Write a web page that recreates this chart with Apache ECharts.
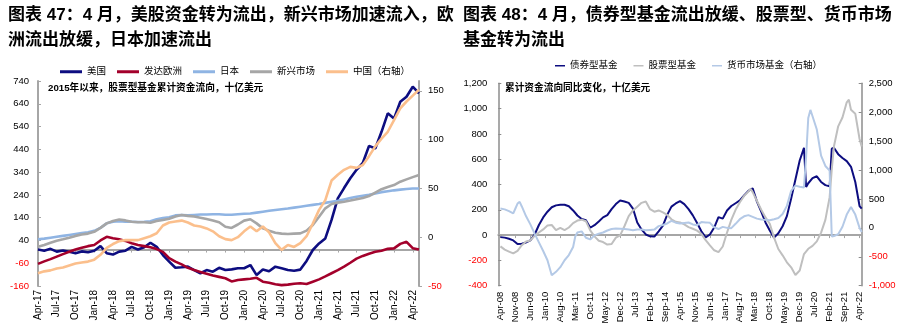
<!DOCTYPE html>
<html><head><meta charset="utf-8">
<script src="https://cdn.jsdelivr.net/npm/echarts@6/dist/echarts.min.js"></script>
<style>html,body{margin:0;padding:0;background:#fff}#c{width:904px;height:335px}</style>
</head><body><div id="c"></div>
<script>
// ---------- Left chart: cumulative equity fund flows since 2015 (bn USD), monthly Apr-17 .. May-22 ----------
const leftTickLabels = ['Apr-17','Jul-17','Oct-17','Jan-18','Apr-18','Jul-18','Oct-18','Jan-19','Apr-19','Jul-19','Oct-19','Jan-20','Apr-20','Jul-20','Oct-20','Jan-21','Apr-21','Jul-21','Oct-21','Jan-22','Apr-22'];
const leftTickStep = 3; // months between tick labels
const leftYLabels = [-160,-60,40,140,240,340,440,540,640,740];
const leftY2Labels = [-50,0,50,100,150];
const usFlow = [0,-5,3,-9,-4,-10,-16,-8,-12,
  -5,15,-16,-22,-9,-5,12,0,10,30,12,-24,
  -53,-80,-78,-75,-90,-104,-90,-97,-80,-90,-87,-82,
  -82,-68,-112,-88,-95,-75,-82,-90,-93,-88,-50,-2,
  27,49,130,225,270,313,350,380,455,444,517,598,
  575,649,671,715,686];
const europeFlow = [-63,-52,-42,-31,-20,-10,0,8,15,
  20,40,56,50,45,38,28,20,15,10,2,-10,
  -38,-53,-65,-80,-90,-98,-106,-114,-120,-126,-140,-134,
  -131,-128,-124,-141,-146,-152,-156,-154,-150,-148,-151,-141,
  -131,-118,-104,-90,-75,-58,-40,-28,-18,-10,-5,3,
  5,25,34,6,0];
const japanFlow = [45,48,52,56,60,64,68,72,76,
  82,95,115,122,125,122,122,121,122,124,133,138,
  142,150,152,150,152,154,154,155,155,153,153,155,
  157,158,162,166,170,174,177,180,184,188,192,196,
  200,205,210,214,220,226,232,236,240,246,252,256,
  260,263,266,268,268];
const emFlow = [12,20,30,39,45,52,60,66,70,
  78,95,115,125,132,128,122,120,120,118,125,130,
  135,145,152,148,145,140,134,128,120,100,95,110,
  127,133,115,93,83,74,70,68,70,71,83,108,
  144,181,200,206,210,215,221,226,235,250,265,275,
  283,298,308,318,327];
const chinaFlow = [-37,-35,-34,-32,-31,-29,-27,-26,-25,
  -23,-18,-11,-7,-4,-3,-3,-3,-1,1,4,12,
  15,16,17,15,12,11,9,6,1,-2,-3,0,
  6,11,6,11,5,-6,-13,-8,-10,-6,1,14,
  28,38,58,64,69,72,71,74,83,93,101,108,
  120,132,139,145,151];

// ---------- Right chart: YoY change of cumulative flows (bn USD), Apr-08 .. May-22 (month index 0 = Apr-08) ----------
const rightTickLabels = ['Apr-08','Nov-08','Jun-09','Jan-10','Aug-10','Mar-11','Oct-11','May-12','Dec-12','Jul-13','Feb-14','Sep-14','Apr-15','Nov-15','Jun-16','Jan-17','Aug-17','Mar-18','Oct-18','May-19','Dec-19','Jul-20','Feb-21','Sep-21','Apr-22'];
const rightTickStep = 7;
const bondMonths = [0,2,4,6,8,10,12,14,16,18,20,22,24,26,28,30,32,34,36,38,40,42,44,46,48,50,52,54,56,58,60,62,64,66,68,70,72,74,76,78,80,82,84,86,88,90,92,94,96,98,100,102,104,106,108,110,112,114,116,118,120,122,124,126,128,130,132,134,136,138,140,142,143,144,146,148,150,152,154,155,156,158,160,162,164,166,168,169];
const bondValues = [-16,-20,-29,-42,-70,-68,-58,-42,5,80,
  140,185,220,235,240,240,228,195,155,128,
  118,58,78,108,140,158,205,245,274,265,
  255,210,100,45,5,-10,-12,30,75,160,
  225,250,269,245,205,156,95,30,-18,5,
  60,142,130,195,230,252,274,314,350,370,
  265,185,100,37,-20,15,70,150,290,440,
  590,690,380,410,450,465,420,395,385,683,691,
  640,610,585,540,420,230,209];
const equityMonths = [0,2,4,6,8,10,12,14,16,18,20,22,24,26,28,30,32,34,36,38,40,42,44,46,48,50,52,54,56,58,60,62,64,66,68,70,72,74,76,78,80,82,84,86,88,90,92,94,96,98,100,102,104,106,108,110,112,114,116,117,118,120,122,124,126,128,130,132,134,136,138,140,142,144,146,148,150,152,154,155,156,158,160,162,163,164,166,168,169];
const equityValues = [-89,-115,-130,-145,-125,-80,-50,-42,-5,20,
  45,75,80,40,58,40,60,95,115,122,
  110,37,-10,-45,-55,-75,-70,-20,-2,70,
  150,195,225,255,265,205,185,195,180,160,
  125,105,100,85,63,50,35,10,-40,-81,
  -120,-134,-90,20,120,200,260,310,345,365,340,
  270,200,140,90,-20,-110,-160,-215,-255,-315,
  -280,-150,-108,-85,-50,20,120,300,520,700,
  860,930,1050,1070,990,960,760,700];
const moneyMonths = [0,2,4,6,7,8,9,10,12,14,16,18,20,22,24,26,28,30,32,34,35,36,38,40,42,44,46,48,50,52,54,56,58,60,62,64,66,68,70,72,74,76,78,80,82,84,86,88,90,92,94,96,98,100,102,104,106,108,110,112,114,116,118,120,122,124,126,128,130,132,134,136,138,140,142,143,144,145,146,148,150,152,154,155,156,158,160,162,164,166,168,169];
const moneyValues = [335,320,290,250,335,420,450,370,200,60,
  -100,-250,-400,-560,-820,-760,-680,-560,-470,-330,
  -150,-80,-60,-170,-200,-130,-100,-80,-45,-20,
  -10,-15,-20,-28,-40,-30,-28,-40,-35,-30,
  30,50,76,120,90,76,85,93,60,47,
  100,95,87,10,-20,17,0,-5,70,150,
  200,220,190,160,145,140,133,150,170,240,
  380,640,730,710,700,1230,1900,2040,1930,1700,
  1250,1070,990,-150,-140,-110,20,230,360,230,
  0,-70];

const zip = (xs, ys) => xs.map((x, i) => [x, ys[i]]);
const idx = (ys) => ys.map((y, i) => [i, y]);

const LATIN = '"Liberation Sans", Arial, "Noto Sans CJK SC", sans-serif';
const AXIS_GRAY = '#a6a6a6';
const labelBase = {fontSize: 9.5, color: '#000', fontFamily: LATIN, rich: {n: {color: '#ff0000', fontSize: 9.5, fontFamily: LATIN}}};
function yFmt(v) {
  const s = Math.abs(v) >= 1000 ? Number(v).toLocaleString('en-US') : String(v);
  return v < 0 ? '{n|' + s + '}' : s;
}

const chart = echarts.init(document.getElementById('c'), null, {renderer: 'canvas'});

const leftTickVals = leftTickLabels.map((_, i) => i * leftTickStep);
const rightTickVals = rightTickLabels.map((_, i) => i * rightTickStep);

const option = {
  animation: false,
  backgroundColor: '#fff',
  graphic: [
    {type: 'text', left: 8, top: 7, style: {text: '图表 47：4 月，美股资金转为流出，新兴市场加速流入，欧', font: 'bold 17px "Liberation Sans", "Noto Sans CJK SC"', fill: '#000'}},
    {type: 'text', left: 8, top: 32, style: {text: '洲流出放缓，日本加速流出', font: 'bold 17px "Liberation Sans", "Noto Sans CJK SC"', fill: '#000'}},
    {type: 'text', left: 463, top: 7, style: {text: '图表 48：4 月，债券型基金流出放缓、股票型、货币市场', font: 'bold 17px "Liberation Sans", "Noto Sans CJK SC"', fill: '#000'}},
    {type: 'text', left: 463, top: 32, style: {text: '基金转为流出', font: 'bold 17px "Liberation Sans", "Noto Sans CJK SC"', fill: '#000'}},
    {type: 'text', left: 48, top: 83, style: {text: '2015年以来，股票型基金累计资金流向，十亿美元', font: 'bold 9.7px "Liberation Sans", "Noto Sans CJK SC"', fill: '#000'}},
    {type: 'text', left: 505, top: 83, style: {text: '累计资金流向同比变化，十亿美元', font: 'bold 9.7px "Liberation Sans", "Noto Sans CJK SC"', fill: '#000'}}
  ],
  legend: [
    {left: 60, top: 67, padding: 0, itemWidth: 22, itemHeight: 3, itemGap: 11, icon: 'rect',
     textStyle: {fontSize: 9.5, color: '#000', fontFamily: LATIN},
     data: ['美国', '发达欧洲', '日本', '新兴市场', '中国（右轴）']},
    {left: 555, top: 61, padding: 0, itemWidth: 10, itemHeight: 1.5, itemGap: 16, icon: 'rect',
     textStyle: {fontSize: 9.5, color: '#000', fontFamily: LATIN},
     data: ['债券型基金', '股票型基金', '货币市场基金（右轴）']}
  ],
  grid: [
    {left: 38, top: 81, width: 381, height: 205},
    {left: 498.3, top: 83.3, width: 363.4, height: 202.4}
  ],
  xAxis: [
    {gridIndex: 0, type: 'value', min: 0, max: 61, position: 'bottom',
     axisLine: {show: true, onZero: true, onZeroAxisIndex: 0, lineStyle: {color: AXIS_GRAY, width: 2}},
     axisTick: {show: true, customValues: leftTickVals, length: 3, lineStyle: {color: AXIS_GRAY, width: 1}},
     axisLabel: {show: false}, splitLine: {show: false}},
    {gridIndex: 0, type: 'value', min: 0, max: 61, position: 'bottom',
     axisLine: {show: false, onZero: false}, axisTick: {show: false}, splitLine: {show: false},
     axisLabel: {show: true, customValues: leftTickVals, rotate: 90, margin: 4, fontSize: 10, color: '#000', fontFamily: LATIN,
       formatter: v => leftTickLabels[Math.round(v / leftTickStep)] || ''}},
    {gridIndex: 1, type: 'value', min: -1, max: 169, position: 'bottom',
     axisLine: {show: true, onZero: true, onZeroAxisIndex: 2, lineStyle: {color: AXIS_GRAY, width: 2}},
     axisTick: {show: true, customValues: rightTickVals, length: 3, lineStyle: {color: AXIS_GRAY, width: 1}},
     axisLabel: {show: false}, splitLine: {show: false}},
    {gridIndex: 1, type: 'value', min: -1, max: 169, position: 'bottom',
     axisLine: {show: false, onZero: false}, axisTick: {show: false}, splitLine: {show: false},
     axisLabel: {show: true, customValues: rightTickVals, rotate: 90, margin: 6, fontSize: 9.5, color: '#000', fontFamily: LATIN,
       formatter: v => rightTickLabels[Math.round(v / rightTickStep)] || ''}}
  ],
  yAxis: [
    {gridIndex: 0, type: 'value', min: -160, max: 740, position: 'left',
     axisLine: {show: true, onZero: false, lineStyle: {color: AXIS_GRAY, width: 2}},
     axisTick: {show: true, inside: true, length: 3, customValues: leftYLabels, lineStyle: {color: AXIS_GRAY}},
     axisLabel: Object.assign({}, labelBase, {customValues: leftYLabels, margin: 9, formatter: yFmt}),
     splitLine: {show: false}},
    {gridIndex: 0, type: 'value', min: -50, max: 160, position: 'right',
     axisLine: {show: true, onZero: false, lineStyle: {color: AXIS_GRAY, width: 2}},
     axisTick: {show: true, inside: false, length: 3, customValues: leftY2Labels, lineStyle: {color: AXIS_GRAY}},
     axisLabel: Object.assign({}, labelBase, {customValues: leftY2Labels, margin: 9, formatter: yFmt}),
     splitLine: {show: false}},
    {gridIndex: 1, type: 'value', min: -400, max: 1200, interval: 200, position: 'left',
     axisLine: {show: true, onZero: false, lineStyle: {color: '#8c8c8c', width: 1.5}},
     axisTick: {show: true, inside: true, length: 3, lineStyle: {color: '#8c8c8c'}},
     axisLabel: Object.assign({}, labelBase, {margin: 11, formatter: yFmt}),
     splitLine: {show: false}},
    {gridIndex: 1, type: 'value', min: -1000, max: 2500, interval: 500, position: 'right',
     axisLine: {show: true, onZero: false, lineStyle: {color: '#8c8c8c', width: 1.5}},
     axisTick: {show: true, inside: true, length: 3, lineStyle: {color: '#8c8c8c'}},
     axisLabel: Object.assign({}, labelBase, {margin: 7, formatter: yFmt}),
     splitLine: {show: false}}
  ],
  series: [
    {name: '美国', type: 'line', xAxisIndex: 0, yAxisIndex: 0, data: idx(usFlow), symbol: 'none', color: '#0d0d80', lineStyle: {width: 2.6, color: '#0d0d80'}},
    {name: '发达欧洲', type: 'line', xAxisIndex: 0, yAxisIndex: 0, data: idx(europeFlow), symbol: 'none', color: '#a3002b', lineStyle: {width: 2.6, color: '#a3002b'}},
    {name: '日本', type: 'line', xAxisIndex: 0, yAxisIndex: 0, data: idx(japanFlow), symbol: 'none', color: '#8fb4e3', lineStyle: {width: 2.6, color: '#8fb4e3'}},
    {name: '新兴市场', type: 'line', xAxisIndex: 0, yAxisIndex: 0, data: idx(emFlow), symbol: 'none', color: '#a6a6a6', lineStyle: {width: 2.6, color: '#a6a6a6'}},
    {name: '中国（右轴）', type: 'line', xAxisIndex: 0, yAxisIndex: 1, data: idx(chinaFlow), symbol: 'none', color: '#fbbf8c', lineStyle: {width: 2.6, color: '#fbbf8c'}},
    {name: '债券型基金', type: 'line', xAxisIndex: 2, yAxisIndex: 2, data: zip(bondMonths, bondValues), symbol: 'none', color: '#0d0d80', lineStyle: {width: 2, color: '#0d0d80'}},
    {name: '股票型基金', type: 'line', xAxisIndex: 2, yAxisIndex: 2, data: zip(equityMonths, equityValues), symbol: 'none', color: '#bfbfbf', lineStyle: {width: 2, color: '#bfbfbf'}},
    {name: '货币市场基金（右轴）', type: 'line', xAxisIndex: 2, yAxisIndex: 3, data: zip(moneyMonths, moneyValues), symbol: 'none', color: '#b4c9e6', lineStyle: {width: 2, color: '#b4c9e6'}}
  ]
};
chart.setOption(option);
</script>
</body></html>
